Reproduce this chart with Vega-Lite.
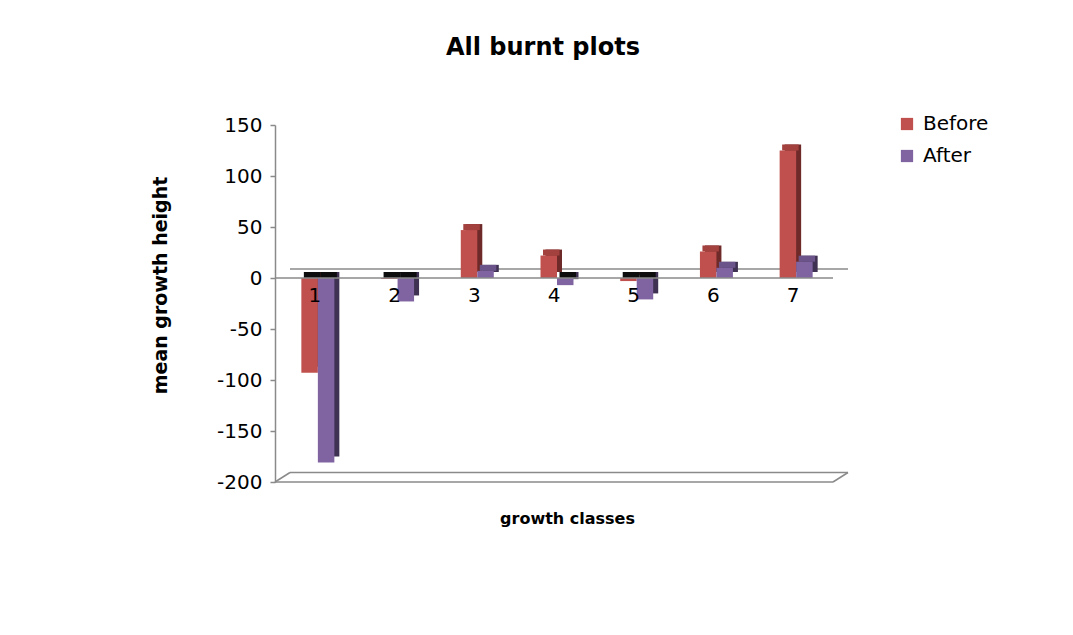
{
  "$schema": "https://vega.github.io/schema/vega-lite/v6.json",
  "width": 558,
  "height": 357,
  "autosize": {"type": "none"},
  "padding": {"left": 275, "top": 125, "right": 240, "bottom": 153},
  "background": "white",
  "config": {
    "view": {"stroke": null},
    "font": "DejaVu Sans"
  },
  "title": {
    "text": "All burnt plots",
    "font": "DejaVu Sans",
    "fontSize": 24,
    "fontWeight": "bold",
    "color": "#000000",
    "anchor": "middle",
    "frame": "group",
    "dx": -11,
    "offset": 35,
    "baseline": "alphabetic"
  },
  "data": {
    "values": [
      {"growth_class": "1", "series": "Before", "value": -93},
      {"growth_class": "1", "series": "After", "value": -181},
      {"growth_class": "2", "series": "Before", "value": -1},
      {"growth_class": "2", "series": "After", "value": -23},
      {"growth_class": "3", "series": "Before", "value": 47},
      {"growth_class": "3", "series": "After", "value": 7},
      {"growth_class": "4", "series": "Before", "value": 22},
      {"growth_class": "4", "series": "After", "value": -7},
      {"growth_class": "5", "series": "Before", "value": -3},
      {"growth_class": "5", "series": "After", "value": -21},
      {"growth_class": "6", "series": "Before", "value": 26},
      {"growth_class": "6", "series": "After", "value": 10},
      {"growth_class": "7", "series": "Before", "value": 125},
      {"growth_class": "7", "series": "After", "value": 16}
    ]
  },
  "layer": [
    {
      "description": "floor of the 3-D plot: front edge (also carries both axes)",
      "data": {"values": [{}]},
      "mark": {"type": "rule", "color": "#8a8a8a", "strokeWidth": 1.5},
      "encoding": {
        "x": {
          "datum": "1",
          "type": "nominal",
          "bandPosition": -0.708,
          "scale": {"domain": ["1", "2", "3", "4", "5", "6", "7"], "paddingInner": 0.586, "paddingOuter": 0.293},
          "axis": {
            "orient": "bottom",
            "domain": false,
            "ticks": false,
            "labels": false,
            "title": "growth classes",
            "titleFont": "DejaVu Sans",
            "titleFontSize": 16,
            "titleFontWeight": "bold",
            "titleColor": "#000000",
            "titleX": 292,
            "titleY": 36,
            "titleBaseline": "middle",
            "titleAlign": "center"
          }
        },
        "x2": {"datum": "7", "bandPosition": 1.708},
        "y": {
          "datum": -200,
          "type": "quantitative",
          "scale": {"domain": [-200, 150], "nice": false},
          "axis": {
            "values": [-200, -150, -100, -50, 0, 50, 100, 150],
            "labelExpr": "datum.value < 0 ? '-' + abs(datum.value) : '' + datum.value",
            "grid": false,
            "domainColor": "#8a8a8a",
            "domainWidth": 1.5,
            "tickColor": "#8a8a8a",
            "tickWidth": 1.5,
            "tickSize": 5,
            "labelPadding": 8,
            "labelFont": "DejaVu Sans",
            "labelFontSize": 20,
            "labelColor": "#000000",
            "title": "mean growth height",
            "titleFont": "DejaVu Sans",
            "titleFontSize": 19,
            "titleFontWeight": "bold",
            "titleColor": "#000000",
            "titleX": -115,
            "titleY": 160,
            "titleBaseline": "middle",
            "titleAlign": "center",
            "titleAngle": -90
          }
        }
      }
    },
    {
      "description": "floor of the 3-D plot: back edge",
      "data": {"values": [{}]},
      "mark": {"type": "rule", "color": "#8a8a8a", "strokeWidth": 1.5, "xOffset": 15, "x2Offset": 15, "yOffset": -9.5},
      "encoding": {
        "x": {"datum": "1", "type": "nominal", "bandPosition": -0.708},
        "x2": {"datum": "7", "bandPosition": 1.708},
        "y": {"datum": -200, "type": "quantitative"}
      }
    },
    {
      "description": "floor of the 3-D plot: left depth edge",
      "data": {"values": [{}]},
      "mark": {"type": "rule", "color": "#8a8a8a", "strokeWidth": 1.5, "x2Offset": 15, "y2Offset": -9.5},
      "encoding": {
        "x": {"datum": "1", "type": "nominal", "bandPosition": -0.708},
        "x2": {"datum": "1", "bandPosition": -0.708},
        "y": {"datum": -200, "type": "quantitative"},
        "y2": {"datum": -200}
      }
    },
    {
      "description": "floor of the 3-D plot: right depth edge",
      "data": {"values": [{}]},
      "mark": {"type": "rule", "color": "#8a8a8a", "strokeWidth": 1.5, "x2Offset": 15, "y2Offset": -9.5},
      "encoding": {
        "x": {"datum": "7", "type": "nominal", "bandPosition": 1.708},
        "x2": {"datum": "7", "bandPosition": 1.708},
        "y": {"datum": -200, "type": "quantitative"},
        "y2": {"datum": -200}
      }
    },
    {
      "description": "zero plane: back edge",
      "data": {"values": [{}]},
      "mark": {"type": "rule", "color": "#8a8a8a", "strokeWidth": 1.5, "xOffset": 15, "x2Offset": 15, "yOffset": -9},
      "encoding": {
        "x": {"datum": "1", "type": "nominal", "bandPosition": -0.708},
        "x2": {"datum": "7", "bandPosition": 1.708},
        "y": {"datum": 0, "type": "quantitative"}
      }
    },
    {
      "description": "side faces of the Before columns",
      "transform": [{"filter": "datum.series === 'Before'"}],
      "mark": {"type": "bar", "width": {"band": 0.5}, "xOffset": -0.25, "yOffset": -6, "y2Offset": -6, "color": "#6e2a28"},
      "encoding": {
        "x": {"field": "growth_class", "type": "nominal", "title": "growth classes"},
        "y": {"field": "value", "type": "quantitative", "title": "mean growth height"}
      }
    },
    {
      "description": "side faces of the After columns",
      "transform": [{"filter": "datum.series === 'After'"}],
      "mark": {"type": "bar", "width": {"band": 0.5}, "xOffset": 16.25, "yOffset": -6, "y2Offset": -6, "color": "#3f3151"},
      "encoding": {
        "x": {"field": "growth_class", "type": "nominal", "title": "growth classes"},
        "y": {"field": "value", "type": "quantitative", "title": "mean growth height"}
      }
    },
    {
      "description": "top faces of the positive Before columns",
      "transform": [{"filter": "datum.series === 'Before' && datum.value >= 0"}],
      "mark": {"type": "bar", "width": {"band": 0.5}, "xOffset": -2.75, "yOffset": -6, "color": "#a3413e"},
      "encoding": {
        "x": {"field": "growth_class", "type": "nominal", "title": "growth classes"},
        "y": {"field": "value", "type": "quantitative", "title": "mean growth height"},
        "y2": {"field": "value"}
      }
    },
    {
      "description": "top faces of the positive After columns",
      "transform": [{"filter": "datum.series === 'After' && datum.value >= 0"}],
      "mark": {"type": "bar", "width": {"band": 0.5}, "xOffset": 13.75, "yOffset": -6, "color": "#6a548a"},
      "encoding": {
        "x": {"field": "growth_class", "type": "nominal", "title": "growth classes"},
        "y": {"field": "value", "type": "quantitative", "title": "mean growth height"},
        "y2": {"field": "value"}
      }
    },
    {
      "description": "top faces of the negative Before columns, seen at the zero plane",
      "transform": [{"filter": "datum.series === 'Before' && datum.value < 0"}],
      "mark": {"type": "bar", "width": {"band": 0.5}, "xOffset": -2.75, "yOffset": -6, "color": "#0d0d0d"},
      "encoding": {
        "x": {"field": "growth_class", "type": "nominal", "title": "growth classes"},
        "y": {"datum": 0, "type": "quantitative"},
        "y2": {"datum": 0}
      }
    },
    {
      "description": "top faces of the negative After columns, seen at the zero plane",
      "transform": [{"filter": "datum.series === 'After' && datum.value < 0"}],
      "mark": {"type": "bar", "width": {"band": 0.5}, "xOffset": 13.75, "yOffset": -6, "color": "#0d0d0d"},
      "encoding": {
        "x": {"field": "growth_class", "type": "nominal", "title": "growth classes"},
        "y": {"datum": 0, "type": "quantitative"},
        "y2": {"datum": 0}
      }
    },
    {
      "description": "front faces of the Before columns",
      "transform": [{"filter": "datum.series === 'Before'"}],
      "mark": {"type": "bar", "width": {"band": 0.5}, "xOffset": -5.25},
      "encoding": {
        "x": {"field": "growth_class", "type": "nominal", "title": "growth classes"},
        "y": {"field": "value", "type": "quantitative", "title": "mean growth height"},
        "color": {
          "field": "series",
          "type": "nominal",
          "scale": {"domain": ["Before", "After"], "range": ["#c0504d", "#8064a2"]},
          "legend": {
            "title": null,
            "orient": "none",
            "legendX": 622,
            "legendY": -11,
            "symbolType": "square",
            "symbolSize": 150,
            "symbolStrokeWidth": 0,
            "labelFont": "DejaVu Sans",
            "labelFontSize": 20,
            "labelColor": "#000000",
            "labelOffset": 6,
            "rowPadding": 12,
            "padding": 0
          }
        }
      }
    },
    {
      "description": "front faces of the After columns",
      "transform": [{"filter": "datum.series === 'After'"}],
      "mark": {"type": "bar", "width": {"band": 0.5}, "xOffset": 11.25},
      "encoding": {
        "x": {"field": "growth_class", "type": "nominal", "title": "growth classes"},
        "y": {"field": "value", "type": "quantitative", "title": "mean growth height"},
        "color": {"field": "series", "type": "nominal"}
      }
    },
    {
      "description": "zero plane: front edge",
      "data": {"values": [{}]},
      "mark": {"type": "rule", "color": "#8a8a8a", "strokeWidth": 1.5},
      "encoding": {
        "x": {"datum": "1", "type": "nominal", "bandPosition": -0.708},
        "x2": {"datum": "7", "bandPosition": 1.708},
        "y": {"datum": 0, "type": "quantitative"}
      }
    },
    {
      "description": "category labels along the zero line",
      "transform": [{"filter": "datum.series === 'Before'"}],
      "mark": {"type": "text", "font": "DejaVu Sans", "fontSize": 20, "color": "#000000", "baseline": "middle", "align": "center", "dy": 18},
      "encoding": {
        "x": {"field": "growth_class", "type": "nominal", "title": "growth classes"},
        "y": {"datum": 0, "type": "quantitative"},
        "text": {"field": "growth_class"}
      }
    }
  ]
}
